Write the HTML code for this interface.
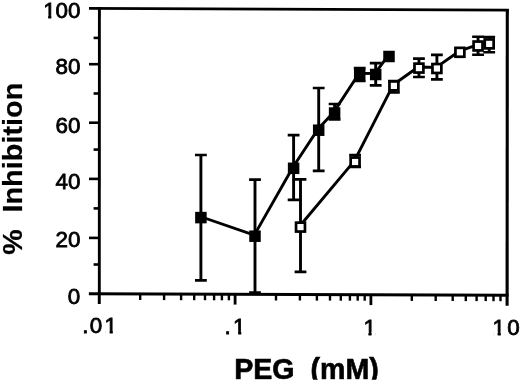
<!DOCTYPE html>
<html lang="en"><head><meta charset="utf-8"><title>PEG inhibition chart</title>
<style>html,body{margin:0;padding:0;background:#fff;}svg{display:block;}</style></head>
<body>
<svg width="520" height="383" viewBox="0 0 520 383">
<defs><filter id="soft" filterUnits="userSpaceOnUse" x="0" y="0" width="520" height="383"><feGaussianBlur stdDeviation="0.45"/></filter></defs>
<rect width="520" height="383" fill="#fff"/>
<g filter="url(#soft)">
<g fill="none" stroke="#000" stroke-linecap="butt">
<path d="M99.4 7.1 L99.3 304.1" stroke-width="2.9"/>
<path d="M89.0 8.4 L508.8 10.2" stroke-width="2.7"/>
<path d="M507.3 8.9 L507.1 305.8" stroke-width="3.1"/>
<path d="M88.9 293.7 L508.6 295.2" stroke-width="3.0"/>
<path d="M93.6 37.9 H99.4" stroke-width="2.6"/>
<path d="M89 64.2 H99.4" stroke-width="2.6"/>
<path d="M93.6 93.5 H99.4" stroke-width="2.6"/>
<path d="M89 122.7 H99.4" stroke-width="2.6"/>
<path d="M93.6 149.6 H99.4" stroke-width="2.6"/>
<path d="M89 178.9 H99.4" stroke-width="2.6"/>
<path d="M93.6 208.4 H99.4" stroke-width="2.6"/>
<path d="M89 237.9 H99.4" stroke-width="2.6"/>
<path d="M93.6 264.5 H99.4" stroke-width="2.6"/>
<path d="M140.2 294.0 V300.0" stroke-width="2.4"/>
<path d="M164.1 294.1 V300.1" stroke-width="2.4"/>
<path d="M181.1 294.2 V300.2" stroke-width="2.4"/>
<path d="M194.2 294.2 V300.2" stroke-width="2.4"/>
<path d="M205.0 294.2 V300.2" stroke-width="2.4"/>
<path d="M214.1 294.3 V300.3" stroke-width="2.4"/>
<path d="M221.9 294.3 V300.3" stroke-width="2.4"/>
<path d="M228.9 294.3 V300.3" stroke-width="2.4"/>
<path d="M235.1 294.3 V304.6" stroke-width="2.8"/>
<path d="M276.0 294.5 V300.5" stroke-width="2.4"/>
<path d="M299.9 294.5 V300.5" stroke-width="2.4"/>
<path d="M316.9 294.6 V300.6" stroke-width="2.4"/>
<path d="M330.0 294.6 V300.6" stroke-width="2.4"/>
<path d="M340.8 294.7 V300.7" stroke-width="2.4"/>
<path d="M349.9 294.7 V300.7" stroke-width="2.4"/>
<path d="M357.7 294.7 V300.7" stroke-width="2.4"/>
<path d="M364.7 294.7 V300.7" stroke-width="2.4"/>
<path d="M370.9 294.8 V305.1" stroke-width="2.8"/>
<path d="M411.8 294.9 V300.9" stroke-width="2.4"/>
<path d="M435.7 295.0 V301.0" stroke-width="2.4"/>
<path d="M452.7 295.0 V301.0" stroke-width="2.4"/>
<path d="M465.8 295.1 V301.1" stroke-width="2.4"/>
<path d="M476.6 295.1 V301.1" stroke-width="2.4"/>
<path d="M485.7 295.1 V301.1" stroke-width="2.4"/>
<path d="M493.5 295.2 V301.2" stroke-width="2.4"/>
<path d="M500.5 295.2 V301.2" stroke-width="2.4"/>
</g>
<g fill="none" stroke="#000">
<path d="M200.9 155.0 V280.4" stroke-width="2.9"/><path d="M195.0 155.0 H206.8 M195.0 280.4 H206.8" stroke-width="2.7"/>
<path d="M255.0 179.6 V292.6" stroke-width="2.9"/><path d="M249.1 179.6 H260.9 M249.1 292.6 H260.9" stroke-width="2.7"/>
<path d="M293.6 135.2 V199.8" stroke-width="2.9"/><path d="M287.70000000000005 135.2 H299.5 M287.70000000000005 199.8 H299.5" stroke-width="2.7"/>
<path d="M318.7 88.0 V170.9" stroke-width="2.9"/><path d="M312.8 88.0 H324.59999999999997 M312.8 170.9 H324.59999999999997" stroke-width="2.7"/>
<path d="M334.6 104.0 V119.4" stroke-width="2.9"/><path d="M328.70000000000005 104.0 H340.5 M328.70000000000005 119.4 H340.5" stroke-width="2.7"/>
<path d="M359.7 68.2 V81.0" stroke-width="2.9"/><path d="M353.8 68.2 H365.59999999999997 M353.8 81.0 H365.59999999999997" stroke-width="2.7"/>
<path d="M375.7 63.2 V85.4" stroke-width="2.9"/><path d="M369.8 63.2 H381.59999999999997 M369.8 85.4 H381.59999999999997" stroke-width="2.7"/>
<path d="M300.5 179.4 V271.9" stroke-width="2.9"/><path d="M294.6 179.4 H306.4 M294.6 271.9 H306.4" stroke-width="2.7"/>
<path d="M355.1 155.2 V166.8" stroke-width="2.9"/><path d="M349.20000000000005 155.2 H361.0 M349.20000000000005 166.8 H361.0" stroke-width="2.7"/>
<path d="M393.9 81.2 V92.5" stroke-width="2.9"/><path d="M388.0 81.2 H399.79999999999995 M388.0 92.5 H399.79999999999995" stroke-width="2.7"/>
<path d="M418.95 58.7 V77.0" stroke-width="2.9"/><path d="M413.05 58.7 H424.84999999999997 M413.05 77.0 H424.84999999999997" stroke-width="2.7"/>
<path d="M436.9 54.8 V79.3" stroke-width="2.9"/><path d="M431.0 54.8 H442.79999999999995 M431.0 79.3 H442.79999999999995" stroke-width="2.7"/>
<path d="M478.05 36.75 V54.75" stroke-width="2.9"/><path d="M472.15000000000003 36.75 H483.95 M472.15000000000003 54.75 H483.95" stroke-width="2.7"/>
<path d="M489.2 37.0 V52.25" stroke-width="2.9"/><path d="M483.3 37.0 H495.09999999999997 M483.3 52.25 H495.09999999999997" stroke-width="2.7"/>
<path d="M200.20 216.50 L254.30 235.10 L292.90 167.20 L318.00 129.10 L333.90 111.90 L359.00 73.50 L375.00 73.40 L388.30 55.40" stroke-width="2.9" stroke-linejoin="round"/>
<path d="M299.80 226.00 L354.40 160.90 L393.20 84.80 L418.25 67.00 L436.20 67.40 L459.20 51.20 L477.35 44.90 L488.50 42.80" stroke-width="2.9" stroke-linejoin="round"/>
</g>
<rect x="195.15" y="211.85" width="11.5" height="11.5" fill="#000"/>
<rect x="249.25" y="230.45" width="11.5" height="11.5" fill="#000"/>
<rect x="287.85" y="162.55" width="11.5" height="11.5" fill="#000"/>
<rect x="312.95" y="124.45" width="11.5" height="11.5" fill="#000"/>
<rect x="328.85" y="107.25" width="11.5" height="11.5" fill="#000"/>
<rect x="353.95" y="68.85" width="11.5" height="11.5" fill="#000"/>
<rect x="369.95" y="68.75" width="11.5" height="11.5" fill="#000"/>
<rect x="383.25" y="50.75" width="11.5" height="11.5" fill="#000"/>
<rect x="296.05" y="222.65" width="8.9" height="8.9" fill="#fff" stroke="#000" stroke-width="2.7"/>
<rect x="350.65" y="157.55" width="8.9" height="8.9" fill="#fff" stroke="#000" stroke-width="2.7"/>
<rect x="389.45" y="81.45" width="8.9" height="8.9" fill="#fff" stroke="#000" stroke-width="2.7"/>
<rect x="414.50" y="63.65" width="8.9" height="8.9" fill="#fff" stroke="#000" stroke-width="2.7"/>
<rect x="432.45" y="64.05" width="8.9" height="8.9" fill="#fff" stroke="#000" stroke-width="2.7"/>
<rect x="455.45" y="47.85" width="8.9" height="8.9" fill="#fff" stroke="#000" stroke-width="2.7"/>
<rect x="473.60" y="41.55" width="8.9" height="8.9" fill="#fff" stroke="#000" stroke-width="2.7"/>
<rect x="484.75" y="39.45" width="8.9" height="8.9" fill="#fff" stroke="#000" stroke-width="2.7"/>
<g font-family="'Liberation Sans', Arial, Helvetica, sans-serif" fill="#000">
<clipPath id="c1"><rect x="41.13" y="-4.30" width="41.37" height="19.87"/><rect x="41.13" y="15.07" width="2.77" height="4.53"/><rect x="48.20" y="15.07" width="3.07" height="4.53"/><rect x="55.40" y="15.07" width="27.10" height="4.53"/></clipPath>
<text x="80.5" y="18.1" font-size="22.4" text-anchor="end" stroke="#000" stroke-width="0.8" clip-path="url(#c1)">100</text>
<text x="80.5" y="74.1" font-size="22.4" text-anchor="end" stroke="#000" stroke-width="0.8">80</text>
<text x="80.5" y="133.0" font-size="22.4" text-anchor="end" stroke="#000" stroke-width="0.8">60</text>
<text x="80.5" y="188.9" font-size="22.4" text-anchor="end" stroke="#000" stroke-width="0.8">40</text>
<text x="80.5" y="247.4" font-size="22.4" text-anchor="end" stroke="#000" stroke-width="0.8">20</text>
<text x="80.1" y="303.6" font-size="22.4" text-anchor="end" stroke="#000" stroke-width="0.8">0</text>
<clipPath id="c2"><rect x="80.30" y="311.00" width="46.70" height="19.87"/><rect x="80.30" y="330.37" width="25.07" height="4.53"/><rect x="109.67" y="330.37" width="3.07" height="4.53"/><rect x="116.87" y="330.37" width="10.13" height="4.53"/></clipPath>
<text x="82.3 89.8 104.6" y="333.4" font-size="22.4" stroke="#000" stroke-width="0.8" clip-path="url(#c2)">.01</text>
<clipPath id="c3"><rect x="222.50" y="311.40" width="33.00" height="19.87"/><rect x="222.50" y="330.77" width="11.37" height="4.53"/><rect x="238.17" y="330.77" width="3.07" height="4.53"/><rect x="245.37" y="330.77" width="10.13" height="4.53"/></clipPath>
<text x="224.5 233.1" y="333.8" font-size="22.4" stroke="#000" stroke-width="0.8" clip-path="url(#c3)">.1</text>
<clipPath id="c4"><rect x="361.40" y="312.20" width="24.40" height="19.87"/><rect x="361.40" y="331.57" width="2.77" height="4.53"/><rect x="368.47" y="331.57" width="3.07" height="4.53"/><rect x="375.67" y="331.57" width="10.13" height="4.53"/></clipPath>
<text x="363.4" y="334.6" font-size="22.4" stroke="#000" stroke-width="0.8" clip-path="url(#c4)">1</text>
<clipPath id="c5"><rect x="490.60" y="312.50" width="39.10" height="19.87"/><rect x="490.60" y="331.87" width="2.77" height="4.53"/><rect x="497.67" y="331.87" width="3.07" height="4.53"/><rect x="504.87" y="331.87" width="24.83" height="4.53"/></clipPath>
<text x="492.6 507.3" y="334.9" font-size="22.4" stroke="#000" stroke-width="0.8" clip-path="url(#c5)">10</text>
<clipPath id="cb"><rect x="0" y="340" width="520" height="39.8"/></clipPath>
<text x="234.2" y="378.6" font-size="28.6" font-weight="bold" stroke="#000" stroke-width="0.6" clip-path="url(#cb)" xml:space="preserve">PEG  (mM)</text>
<text transform="translate(21.7 254.72) rotate(-90)" x="0" y="0" font-size="27.9" font-weight="bold" stroke="#000" stroke-width="0.2" textLength="25.43" lengthAdjust="spacingAndGlyphs">%</text>
<text transform="translate(21.7 212.53) rotate(-90)" x="0" y="0" font-size="27.9" font-weight="bold" stroke="#000" stroke-width="0.2" textLength="129.82" lengthAdjust="spacingAndGlyphs">Inhibition</text>
</g>
</g>
</svg>
</body></html>
